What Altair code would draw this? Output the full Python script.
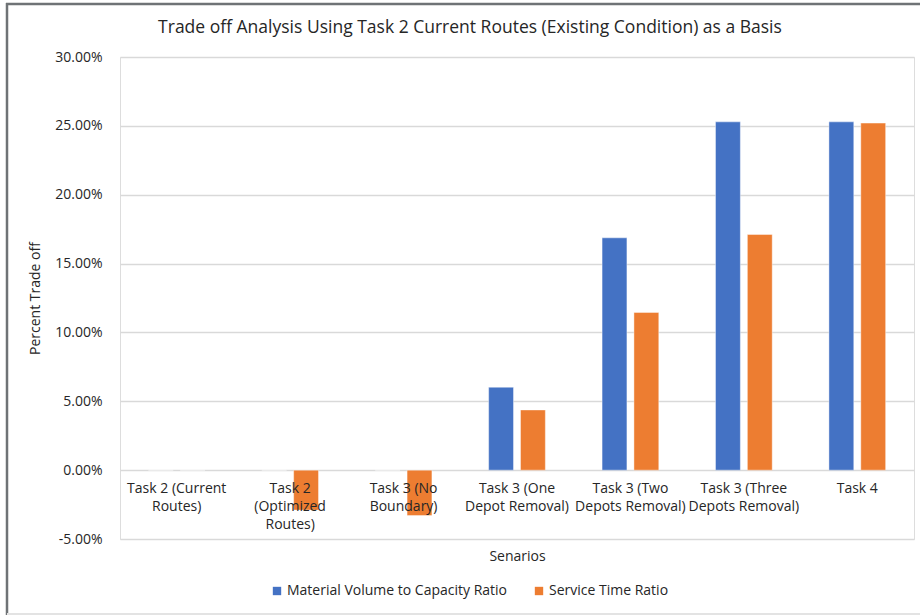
import altair as alt
import pandas as pd

# Scenario names, wrapped the way they appear under the axis
categories = [
    "Task 2 (Current\nRoutes)",
    "Task 2\n(Optimized\nRoutes)",
    "Task 3 (No\nBoundary)",
    "Task 3 (One\nDepot Removal)",
    "Task 3 (Two\nDepots Removal)",
    "Task 3 (Three\nDepots Removal)",
    "Task 4",
]
series_names = ["Material Volume to Capacity Ratio", "Service Time Ratio"]
material_volume = [0.0, 0.0, 0.0, 0.0602, 0.1687, 0.2529, 0.2529]
service_time = [0.0, -0.029, -0.033, 0.0437, 0.1145, 0.1711, 0.2520]
y_ticks = [-0.05, 0.0, 0.05, 0.10, 0.15, 0.20, 0.25, 0.30]
chart_title = "Trade off Analysis Using Task 2 Current Routes (Existing Condition) as a Basis"

rows = []
for cat, mv, st in zip(categories, material_volume, service_time):
    rows.append({"scenario": cat, "series": series_names[0], "value": mv})
    rows.append({"scenario": cat, "series": series_names[1], "value": st})
df = pd.DataFrame(rows)
labels_df = pd.DataFrame({"scenario": categories, "zero": [0.0] * len(categories)})
one_row = pd.DataFrame({"title": [chart_title]})

FONT = "Open Sans"
TEXT = "#262626"

x_scale = alt.Scale(domain=categories, paddingInner=0.5, paddingOuter=0.25)
y_scale = alt.Scale(domain=[-0.05, 0.30], nice=False, zero=False)

bars = alt.Chart(df).mark_bar(stroke="white", strokeWidth=0.6, strokeOpacity=0.7).encode(
    x=alt.X(
        "scenario:N",
        scale=x_scale,
        sort=categories,
        axis=alt.Axis(
            labels=False, ticks=False, domain=False, grid=False,
            title="Senarios", titleFont=FONT, titleFontSize=14,
            titleFontWeight="normal", titleColor=TEXT, titleY=79,
            offset=-69,
        ),
    ),
    xOffset=alt.XOffset(
        "series:N", sort=series_names,
        scale=alt.Scale(paddingInner=0.22, paddingOuter=0),
    ),
    y=alt.Y(
        "value:Q",
        scale=y_scale,
        axis=alt.Axis(
            values=y_ticks,
            labelExpr="replace(format(datum.value, '.2%'), '\u2212', '-')",
            title="Percent Trade off",
            labelFont=FONT, labelFontSize=14, labelColor=TEXT, labelPadding=18,
            titleFont=FONT, titleFontSize=14, titleFontWeight="normal",
            titleColor=TEXT, titlePadding=12,
            grid=True, gridColor="#d9d9d9", gridWidth=1.5,
            domain=False, ticks=False,
        ),
    ),
    color=alt.Color(
        "series:N",
        sort=series_names,
        scale=alt.Scale(domain=series_names, range=["#4472C4", "#ED7D31"]),
        legend=alt.Legend(
            title=None, orient="none", direction="horizontal",
            legendX=150, legendY=527, symbolType="square", symbolSize=70,
            symbolStrokeWidth=0, labelFont=FONT, labelFontSize=14,
            labelColor=TEXT, columnPadding=24, symbolOffset=0, labelOffset=3,
            labelLimit=0,
        ),
    ),
)

# Scenario names sit just under the zero line, over the negative bars
cat_labels = alt.Chart(labels_df).mark_text(
    baseline="top", align="center", dy=12, lineBreak="\n", lineHeight=18,
    font=FONT, fontSize=14, color=TEXT,
).encode(
    x=alt.X("scenario:N", scale=x_scale, sort=categories),
    y=alt.Y("zero:Q", scale=y_scale),
    text="scenario:N",
)

# Chart title, centred on the whole chart area
title_mark = alt.Chart(one_row).mark_text(
    font=FONT, fontSize=17.5, color=TEXT, align="center", baseline="middle", clip=False,
).encode(x=alt.value(350), y=alt.value(-29), text="title:N")

# Chart frame: dark left/top edges, light bottom edge
frame_left = alt.Chart(one_row).mark_rule(color="#6f7376", strokeWidth=2.5, clip=False).encode(
    x=alt.value(-113), y=alt.value(-54), y2=alt.value(558)
)
frame_top = alt.Chart(one_row).mark_rule(color="#6f7376", strokeWidth=2.5, clip=False).encode(
    x=alt.value(-114), x2=alt.value(800), y=alt.value(-53)
)
frame_bottom = alt.Chart(one_row).mark_rule(color="#e3e3e3", strokeWidth=2, clip=False).encode(
    x=alt.value(-113), x2=alt.value(800), y=alt.value(557)
)

chart = alt.layer(bars, cat_labels, title_mark, frame_left, frame_top, frame_bottom).properties(
    width=794,
    height=482,
    autosize=alt.AutoSizeParams(type="none"),
    padding={"left": 120, "top": 57, "right": 6, "bottom": 76},
).configure_view(stroke=None).configure(background="white")

chart.save("out.html", embed_options={"renderer": "svg", "actions": False})
